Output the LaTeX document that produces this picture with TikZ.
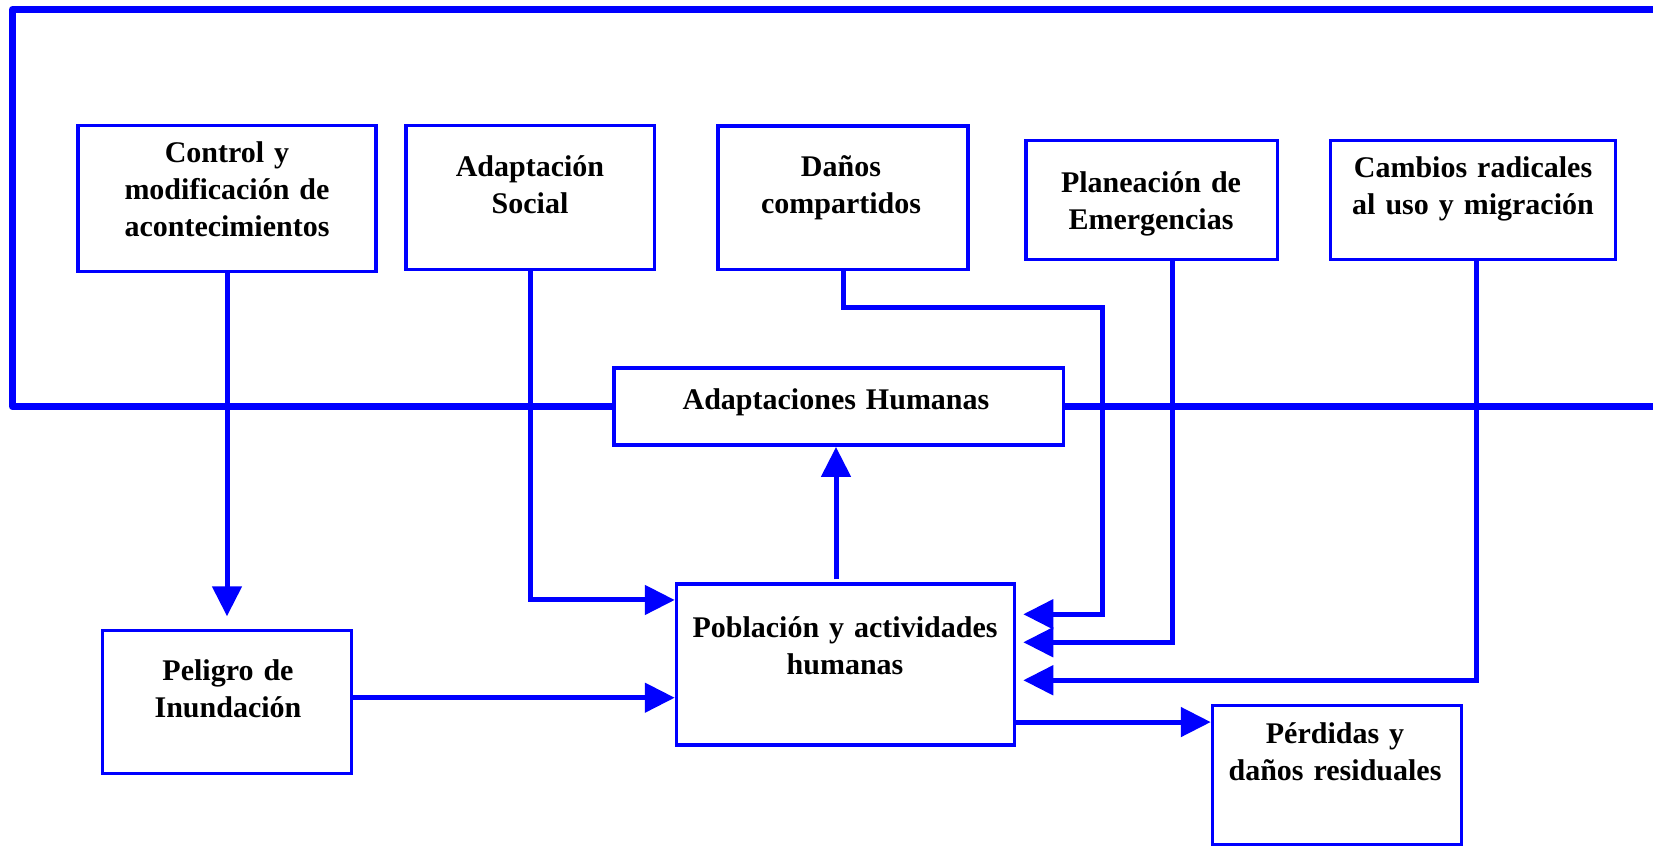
\documentclass[tikz,border=0pt]{standalone}
\usepackage{fontspec}
\setmainfont{Liberation Serif}
\usetikzlibrary{arrows.meta,calc}
\definecolor{frameblue}{RGB}{0,0,255}
\begin{document}
\begin{tikzpicture}[x=0.5pt,y=-0.5pt,
  box/.style={draw=frameblue,line width=1.75pt,rectangle,inner sep=0pt,fill=white},
  lbl/.style={font=\fontsize{15pt}{18.5pt}\selectfont\bfseries,text=black,align=center,text width=220pt,anchor=base,inner sep=0pt},
  conn/.style={draw=frameblue,line width=2.5pt},
  arr/.style={conn,-{Triangle[length=15pt,width=14.5pt]}},
  frame/.style={draw=frameblue,line width=3.4pt,line join=round}]
\useasboundingbox (0,0) rectangle (1653,848);
% frame coordinates
\coordinate (frTL) at (12.5,9.5);
\coordinate (frTR) at (1653,9.5);
\coordinate (frR) at (1653,406.7);
% boxes
\node[box,minimum width=149pt,minimum height=73pt] (ctl) at (227,198.5) {};
\node[box,minimum width=124.25pt,minimum height=72pt] (ads) at (530.25,197.5) {};
\node[box,minimum width=124.8pt,minimum height=71.85pt] (dan) at (843,197.6) {};
\node[box,minimum width=125.75pt,minimum height=59.5pt] (pla) at (1151.7,200) {};
\node[box,minimum width=142.5pt,minimum height=59.5pt] (cam) at (1473,200) {};
\node[box,minimum width=224.7pt,minimum height=38.5pt] (ah) at (838.8,406.7) {};
\node[box,minimum width=169pt,minimum height=80.5pt] (pob) at (845.5,664.7) {};
\node[box,minimum width=124.5pt,minimum height=71.5pt] (pel) at (227,702) {};
\node[box,minimum width=124.5pt,minimum height=69.5pt] (per) at (1337,775) {};
% frame
\draw[frame] (ah.west) -| (frTL) -- (frTR);
\draw[frame] (ah.east) -- (frR);
% texts
\node[lbl] (ctl-t) at (227,162) {Control y\\modificación de\\acontecimientos};
\node[lbl] (ads-t) at (530,176.7) {Adaptación\\Social};
\node[lbl] (dan-t) at (841,176.7) {Daños\\compartidos};
\node[lbl] (pla-t) at (1151,192.7) {Planeación de\\Emergencias};
\node[lbl] (cam-t) at (1473,177) {Cambios radicales\\al uso y migración};
\node[lbl] (ah-t) at (836,409) {Adaptaciones Humanas};
\node[lbl] (pob-t) at (845,637) {Población y actividades\\humanas};
\node[lbl] (pel-t) at (228,680) {Peligro de\\Inundación};
\node[lbl] (per-t) at (1335,743) {Pérdidas y\\daños residuales};
% connectors
\draw[arr,shorten >=6.25pt] (ctl.south) -- (ctl.south |- pel.north);
\draw[arr] (ads.south) |- ($(pob.north west)+(0,17.5)$);
\coordinate (dk) at (1102,307.7);
\draw[arr,shorten >=3.5pt] (dan.south) |- (dk) |- ($(pob.north east)+(0,31.8)$);
\draw[arr,shorten >=3.5pt] ($(pla.south)+(20.3,0)$) |- ($(pob.north east)+(0,59.8)$);
\draw[arr,shorten >=3.5pt] ($(cam.south)+(3,0)$) |- ($(pob.north east)+(0,97.8)$);
\draw[arr] ($(pob.north)+(-9.5,-3)$) -- ($(ah.south)+(-2.8,0)$);
\coordinate (pe) at ($(pel.east)+(0,-4.3)$);
\draw[arr] (pe) -- (pe -| pob.west);
\coordinate (pr) at ($(per.north west)+(0,18.3)$);
\draw[arr] (pr -| pob.east) -- (pr);
\end{tikzpicture}
\end{document}
